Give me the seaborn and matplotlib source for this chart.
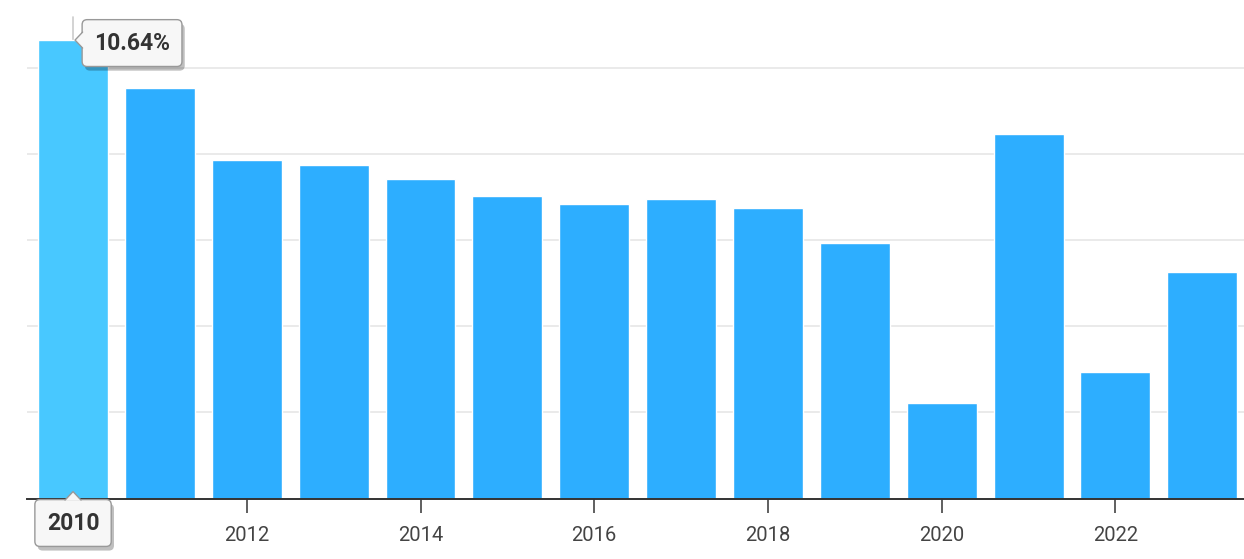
import matplotlib
matplotlib.use("Agg")
import matplotlib.pyplot as plt
import matplotlib.patheffects as pe
from matplotlib.patches import Polygon
from matplotlib.transforms import IdentityTransform
import seaborn as sns
import pandas as pd

years = [2010, 2011, 2012, 2013, 2014, 2015, 2016, 2017, 2018, 2019, 2020, 2021, 2022, 2023]
values = [10.64, 9.52, 7.85, 7.75, 7.41, 7.02, 6.84, 6.95, 6.74, 5.94, 2.22, 8.45, 2.94, 5.25]
tick_years = [2012, 2014, 2016, 2018, 2020, 2022]
grid_levels = [2, 4, 6, 8, 10]
highlight_year = 2010
highlight_label = "10.64%"

sns.set_theme(style="white")
plt.rcParams['font.family'] = ['Roboto', 'DejaVu Sans']

df = pd.DataFrame({"year": [str(y) for y in years], "value": values})
base_color = "#2daeff"
hi_color = "#48c8ff"
palette = {str(y): (hi_color if y == highlight_year else base_color) for y in years}

fig = plt.figure(figsize=(12.44, 5.59), dpi=100)
W, H = 1244, 559
ax = fig.add_axes([27 / W, (559 - 498.5) / H, (1244 - 27) / W, 498.5 / H])

sns.barplot(data=df, x="year", y="value", hue="year", palette=palette,
            order=[str(y) for y in years], legend=False, width=0.805,
            saturation=1, ax=ax, zorder=2)

ax.set_xlim(-0.53, 13.48)
ax.set_ylim(0, 11.57)

for g in grid_levels:
    ax.axhline(g, color="#e6e6e6", lw=1.2, zorder=0)

for s in ["top", "right", "left"]:
    ax.spines[s].set_visible(False)
ax.spines["bottom"].set_color("#333333")
ax.spines["bottom"].set_linewidth(1.4)
ax.spines["bottom"].set_zorder(3)

pos = [years.index(y) for y in tick_years]
ax.set_xticks(pos)
ax.set_xticklabels([str(y) for y in tick_years], fontsize=14.5, color="#444444")
ax.tick_params(axis="x", length=10, width=1.2, color="#444444", pad=10, bottom=True)
ax.set_yticks([])
ax.set_xlabel("")
ax.set_ylabel("")

hi_idx = years.index(highlight_year)
hi_val = values[hi_idx]
# crosshair line above highlighted bar
ax.plot([hi_idx, hi_idx], [hi_val, 11.17], color="#cccccc", lw=1.2, zorder=1)

shadow = [pe.withSimplePatchShadow(offset=(2, -3), shadow_rgbFace="#000000", alpha=0.25)]

t1 = ax.annotate(highlight_label, xy=(hi_idx, hi_val), xytext=(59, -3),
                 textcoords="offset pixels", ha="center", va="center",
                 fontsize=16.5, fontweight="bold", color="#333333", zorder=6,
                 bbox=dict(boxstyle="round,pad=0.52,rounding_size=0.22",
                           fc="#f7f7f7", ec="#999999", lw=1))
t1.get_bbox_patch().set_path_effects(shadow)

t2 = ax.annotate(str(highlight_year), xy=(hi_idx, 0), xytext=(0, -24.5),
                 textcoords="offset pixels", ha="center", va="center",
                 fontsize=16.5, fontweight="bold", color="#333333", zorder=6,
                 annotation_clip=False,
                 bbox=dict(boxstyle="round,pad=0.52,rounding_size=0.22",
                           fc="#f7f7f7", ec="#999999", lw=1))
t2.get_bbox_patch().set_path_effects(shadow)

fig.canvas.draw()
bx, by = ax.transData.transform((hi_idx, hi_val))
bb1 = t1.get_bbox_patch().get_window_extent()
lx = bb1.x0
tri1 = Polygon([[lx + 1, by + 8], [bx + 2, by], [lx + 1, by - 8]], closed=True,
               fc="#f7f7f7", ec="none", transform=IdentityTransform(), zorder=7)
fig.add_artist(tri1)
fig.add_artist(matplotlib.lines.Line2D([lx + 0.5, bx + 2, lx + 0.5], [by + 8, by, by - 8],
               color="#999999", lw=1, transform=IdentityTransform(), zorder=7))

bx0, by0 = ax.transData.transform((hi_idx, 0))
bb2 = t2.get_bbox_patch().get_window_extent()
ty = bb2.y1
tri2 = Polygon([[bx0 - 8, ty - 1], [bx0, ty + 8], [bx0 + 8, ty - 1]], closed=True,
               fc="#f7f7f7", ec="none", transform=IdentityTransform(), zorder=7)
fig.add_artist(tri2)
fig.add_artist(matplotlib.lines.Line2D([bx0 - 8, bx0, bx0 + 8], [ty - 0.5, ty + 8, ty - 0.5],
               color="#999999", lw=1, transform=IdentityTransform(), zorder=7))

fig.savefig("out.png", dpi=100)
